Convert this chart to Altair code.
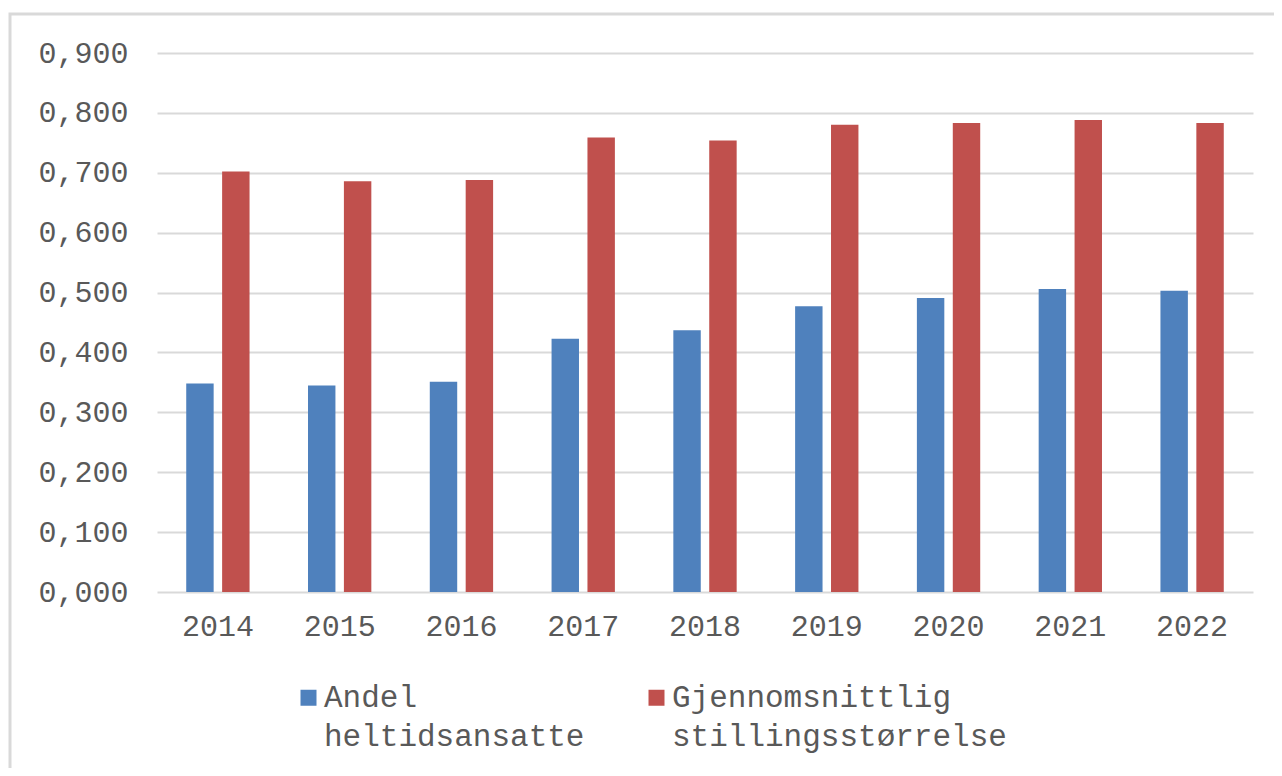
import altair as alt
import pandas as pd

years = ["2014", "2015", "2016", "2017", "2018", "2019", "2020", "2021", "2022"]
andel = [0.348, 0.345, 0.351, 0.423, 0.437, 0.477, 0.491, 0.506, 0.503]
gjennomsnitt = [0.702, 0.686, 0.688, 0.759, 0.754, 0.780, 0.783, 0.788, 0.783]
series = ["Andel heltidsansatte", "Gjennomsnittlig stillingsstørrelse"]
colors = ["#4F81BD", "#C0504D"]
y_ticks = [0.0, 0.1, 0.2, 0.3, 0.4, 0.5, 0.6, 0.7, 0.8, 0.9]

rows = []
for i, yr in enumerate(years):
    rows.append({"year": yr, "series": series[0], "value": andel[i]})
    rows.append({"year": yr, "series": series[1], "value": gjennomsnitt[i]})
df = pd.DataFrame(rows)

FONT = "Liberation Mono"
TXT = "#595959"
GRID = "#d9d9d9"

W, H = 1096, 539

bars = alt.Chart(df).mark_bar().encode(
    x=alt.X("year:N", sort=years, title=None,
            scale=alt.Scale(paddingInner=0.48, paddingOuter=0.24),
            axis=alt.Axis(labelAngle=0, ticks=False, domain=False, grid=False,
                          labelFont=FONT, labelFontSize=30, labelColor=TXT,
                          labelPadding=19)),
    xOffset=alt.XOffset("series:N", sort=series,
                        scale=alt.Scale(paddingInner=0.236, paddingOuter=0)),
    y=alt.Y("value:Q", title=None,
            scale=alt.Scale(domain=[0, 0.9], nice=False),
            axis=alt.Axis(values=y_ticks, ticks=False, domain=False,
                          labelFont=FONT, labelFontSize=30, labelColor=TXT,
                          labelPadding=29, gridColor=GRID, gridWidth=2,
                          labelExpr="replace(format(datum.value, '.3f'), '.', ',')")),
    color=alt.Color("series:N", sort=series,
                    scale=alt.Scale(domain=series, range=colors),
                    legend=alt.Legend(title=None, orient="none", direction="horizontal",
                                      columns=2, legendX=136, legendY=629,
                                      symbolType="square", symbolSize=256,
                                      symbolStrokeWidth=0, labelFont=FONT,
                                      labelFontSize=31, labelColor=TXT,
                                      labelOffset=0, columnPadding=56,
                                      labelLimit=1000,
                                      labelExpr="split(datum.label, ' ')")),
)

border_df = pd.DataFrame({"k": [0]})
border = alt.Chart(border_df).mark_rect(fill=None, stroke=GRID, strokeWidth=3).encode(
    x=alt.value(-147), x2=alt.value(1200), y=alt.value(-39), y2=alt.value(800)
)

chart = alt.layer(border, bars).properties(
    width=W, height=H,
    autosize=alt.AutoSizeParams(type="none"),
    padding={"left": 149, "top": 45, "right": 21, "bottom": 176},
).configure(
    background="white",
    style={"guide-label": {"lineHeight": 39}},
).configure_view(strokeWidth=0)

chart.save("out.html", embed_options={"renderer": "svg", "actions": False})
